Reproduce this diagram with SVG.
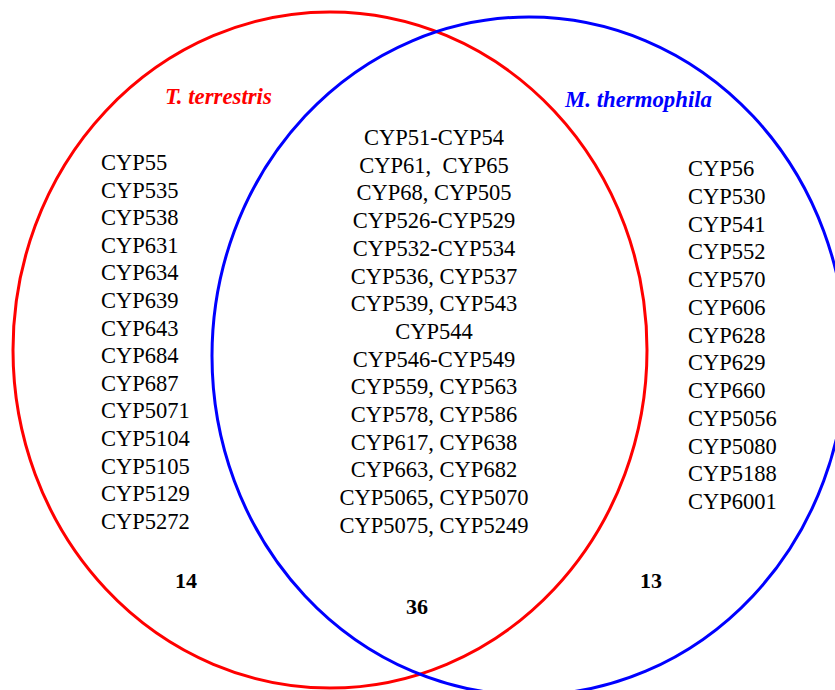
<svg xmlns="http://www.w3.org/2000/svg" width="835" height="690" viewBox="0 0 835 690">
<style>
.t{font-family:"Liberation Serif","Times New Roman",serif;font-size:22.5px;fill:#000}
.c{text-anchor:middle}
.lab{font-family:"Liberation Serif","Times New Roman",serif;font-size:22.8px;font-weight:bold;font-style:italic}
.num{font-family:"Liberation Serif","Times New Roman",serif;font-size:22px;font-weight:bold;fill:#000;text-anchor:middle}
</style>
<rect width="835" height="690" fill="#fff"/>
<g id="connectors"></g>
<g id="set-red">
<ellipse cx="330" cy="350" rx="317" ry="338" fill="none" stroke="#ff0000" stroke-width="3"/>
<text class="lab" x="165" y="104" fill="#ff0000">T. terrestris</text>
</g>
<g id="set-blue">
<ellipse cx="529" cy="356" rx="317" ry="339" fill="none" stroke="#0000ff" stroke-width="3"/>
<text class="lab" x="565" y="107" fill="#0000ff">M. thermophila</text>
</g>
<g id="left-list">
<text class="t" x="101" y="170">CYP55</text>
<text class="t" x="101" y="197.6">CYP535</text>
<text class="t" x="101" y="225.2">CYP538</text>
<text class="t" x="101" y="252.8">CYP631</text>
<text class="t" x="101" y="280.4">CYP634</text>
<text class="t" x="101" y="308">CYP639</text>
<text class="t" x="101" y="335.6">CYP643</text>
<text class="t" x="101" y="363.2">CYP684</text>
<text class="t" x="101" y="390.8">CYP687</text>
<text class="t" x="101" y="418.4">CYP5071</text>
<text class="t" x="101" y="446">CYP5104</text>
<text class="t" x="101" y="473.6">CYP5105</text>
<text class="t" x="101" y="501.2">CYP5129</text>
<text class="t" x="101" y="528.8">CYP5272</text>
<text class="num" x="186" y="588">14</text>
</g>
<g id="center-list">
<text class="t c" x="434" y="145">CYP51-CYP54</text>
<text class="t c" x="434" y="172.7" xml:space="preserve">CYP61,  CYP65</text>
<text class="t c" x="434" y="200.4">CYP68, CYP505</text>
<text class="t c" x="434" y="228.1">CYP526-CYP529</text>
<text class="t c" x="434" y="255.8">CYP532-CYP534</text>
<text class="t c" x="434" y="283.5">CYP536, CYP537</text>
<text class="t c" x="434" y="311.2">CYP539, CYP543</text>
<text class="t c" x="434" y="338.9">CYP544</text>
<text class="t c" x="434" y="366.6">CYP546-CYP549</text>
<text class="t c" x="434" y="394.3">CYP559, CYP563</text>
<text class="t c" x="434" y="422">CYP578, CYP586</text>
<text class="t c" x="434" y="449.7">CYP617, CYP638</text>
<text class="t c" x="434" y="477.4">CYP663, CYP682</text>
<text class="t c" x="434" y="505.1">CYP5065, CYP5070</text>
<text class="t c" x="434" y="532.8">CYP5075, CYP5249</text>
<text class="num" x="417" y="614">36</text>
</g>
<g id="right-list">
<text class="t" x="688" y="176">CYP56</text>
<text class="t" x="688" y="203.75">CYP530</text>
<text class="t" x="688" y="231.5">CYP541</text>
<text class="t" x="688" y="259.25">CYP552</text>
<text class="t" x="688" y="287">CYP570</text>
<text class="t" x="688" y="314.75">CYP606</text>
<text class="t" x="688" y="342.5">CYP628</text>
<text class="t" x="688" y="370.25">CYP629</text>
<text class="t" x="688" y="398">CYP660</text>
<text class="t" x="688" y="425.75">CYP5056</text>
<text class="t" x="688" y="453.5">CYP5080</text>
<text class="t" x="688" y="481.25">CYP5188</text>
<text class="t" x="688" y="509">CYP6001</text>
<text class="num" x="651" y="588">13</text>
</g>
</svg>
